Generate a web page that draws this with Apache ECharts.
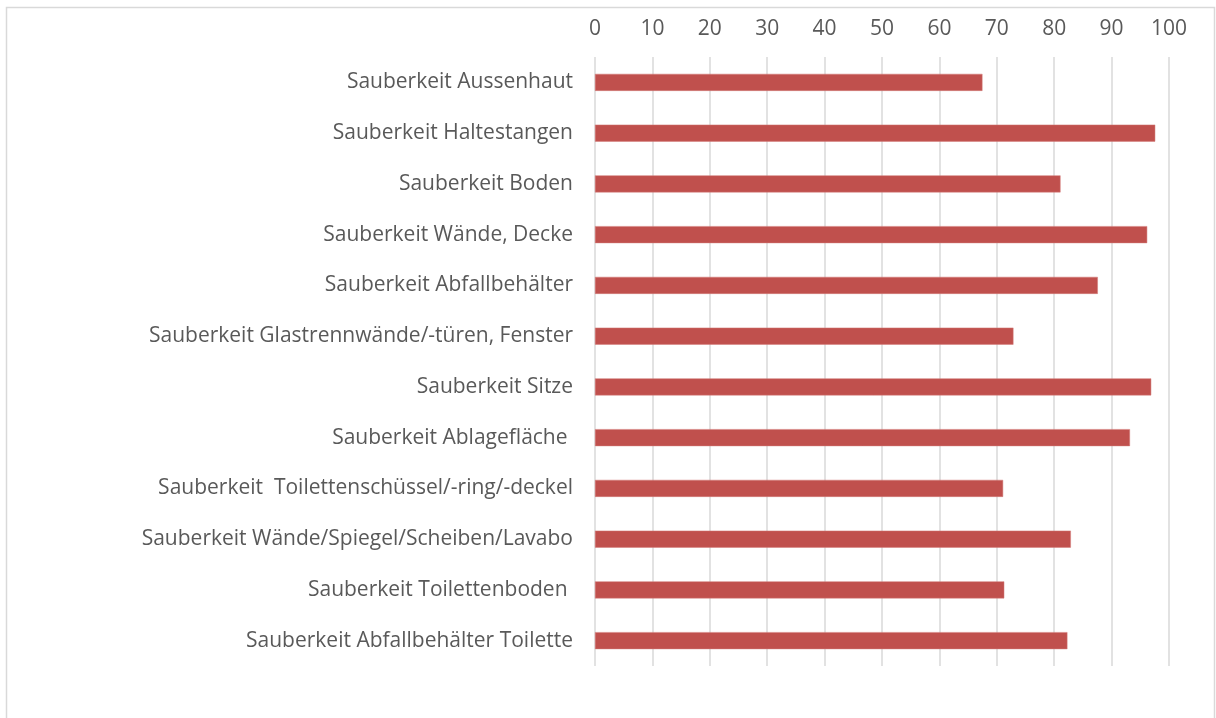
<!DOCTYPE html>
<html>
<head>
<meta charset="utf-8">
<script src="https://cdn.jsdelivr.net/npm/echarts@6/dist/echarts.min.js"></script>
<style>
  html, body { margin: 0; padding: 0; background: #fff; }
  #chart { width: 1216px; height: 718px; }
</style>
</head>
<body>
<div id="chart"></div>
<script>
var categories = [
  "Sauberkeit Aussenhaut",
  "Sauberkeit Haltestangen",
  "Sauberkeit Boden",
  "Sauberkeit Wände, Decke",
  "Sauberkeit Abfallbehälter",
  "Sauberkeit Glastrennwände/-türen, Fenster",
  "Sauberkeit Sitze",
  "Sauberkeit Ablagefläche ",
  "Sauberkeit  Toilettenschüssel/-ring/-deckel",
  "Sauberkeit Wände/Spiegel/Scheiben/Lavabo",
  "Sauberkeit Toilettenboden ",
  "Sauberkeit Abfallbehälter Toilette"
];
var values = [67.5, 97.6, 81.1, 96.2, 87.6, 72.9, 96.9, 93.2, 71.1, 82.9, 71.3, 82.3];
var xTicks = { min: 0, max: 100, interval: 10 };

var textColor = "#595959";
var fontFamily = "'Open Sans', 'Noto Sans', sans-serif";

var myChart = echarts.init(document.getElementById("chart"));
var option = {
  animation: false,
  backgroundColor: "#fff",
  textStyle: { fontFamily: fontFamily },
  graphic: [
    {
      type: "rect",
      shape: { x: 6.5, y: 7.5, width: 1208, height: 720 },
      style: { fill: "none", stroke: "#d9d9d9", lineWidth: 1.5 },
      silent: true
    }
  ],
  grid: { left: 595, right: 47, top: 57, bottom: 52, containLabel: false },
  xAxis: {
    type: "value",
    position: "top",
    min: xTicks.min,
    max: xTicks.max,
    interval: xTicks.interval,
    axisLine: { show: false },
    axisTick: { show: false },
    axisLabel: { color: textColor, fontSize: 21, margin: 17, fontFamily: fontFamily },
    splitLine: { show: true, lineStyle: { color: "#d9d9d9", width: 1.5 } }
  },
  yAxis: {
    type: "category",
    inverse: true,
    data: categories,
    axisLine: { show: false },
    axisTick: { show: false },
    axisLabel: { color: textColor, fontSize: 21, margin: 22, fontFamily: fontFamily }
  },
  series: [
    {
      type: "bar",
      data: values,
      barWidth: 17,
      itemStyle: { color: "#c0504d", borderColor: "#d27a78", borderWidth: 0.5 }
    }
  ]
};
myChart.setOption(option);
</script>
</body>
</html>
